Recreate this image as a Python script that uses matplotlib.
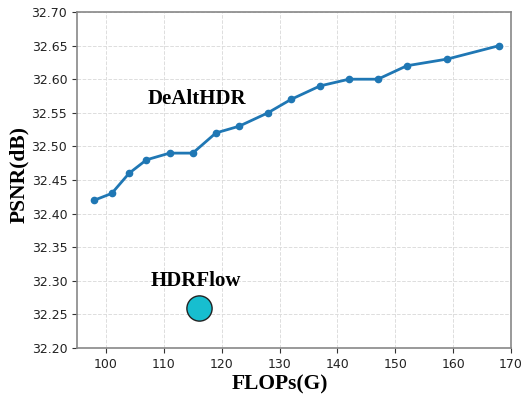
import matplotlib.pyplot as plt

flops = [98, 101, 104, 107, 111, 115, 119, 123, 128, 132, 137, 142, 147, 152, 159, 168]
psnr = [32.42, 32.43, 32.46, 32.48, 32.49, 32.49, 32.52, 32.53, 32.55, 32.57,
        32.59, 32.60, 32.60, 32.62, 32.63, 32.65]
hdrflow_flops = 116
hdrflow_psnr = 32.26

serif = ['Liberation Serif', 'DejaVu Serif']

fig = plt.figure(figsize=(5.22, 3.99), dpi=100)
ax = fig.add_axes([77 / 522, 1 - 348 / 399, 434 / 522, 336 / 399])

ax.plot(flops, psnr, color='#1f77b4', linewidth=2, marker='o', markersize=4.5, zorder=3)
ax.scatter([hdrflow_flops], [hdrflow_psnr], s=330, color='#17becf',
           edgecolor='#222222', linewidth=1, zorder=4)

ax.text(115.7, 32.57, 'DeAltHDR', fontsize=15, fontweight='bold', family=serif,
        ha='center', va='center')
ax.text(115.6, 32.30, 'HDRFlow', fontsize=15, fontweight='bold', family=serif,
        ha='center', va='center')

ax.set_xlim(95, 170)
ax.set_ylim(32.2, 32.7)
ax.set_xticks(range(100, 171, 10))
ax.set_yticks([32.2 + 0.05 * i for i in range(11)])
ax.yaxis.set_major_formatter(plt.FormatStrFormatter('%.2f'))
ax.tick_params(labelsize=9, colors='#333333', labelcolor='#222222')
ax.grid(True, linestyle='--', color='#dddddd', linewidth=0.7)
ax.set_axisbelow(True)
for s in ax.spines.values():
    s.set_color('#888888')
    s.set_linewidth(1.2)

ax.set_xlabel('FLOPs(G)', fontsize=15.5, fontweight='bold', family=serif)
ax.set_ylabel('PSNR(dB)', fontsize=15.5, fontweight='bold', family=serif)
ax.xaxis.set_label_coords(0.468, -0.11)
ax.yaxis.set_label_coords(-0.134, 0.515)
ax.xaxis.label.set_va('center')
ax.yaxis.label.set_va('center')

fig.savefig('out.png', dpi=100)
